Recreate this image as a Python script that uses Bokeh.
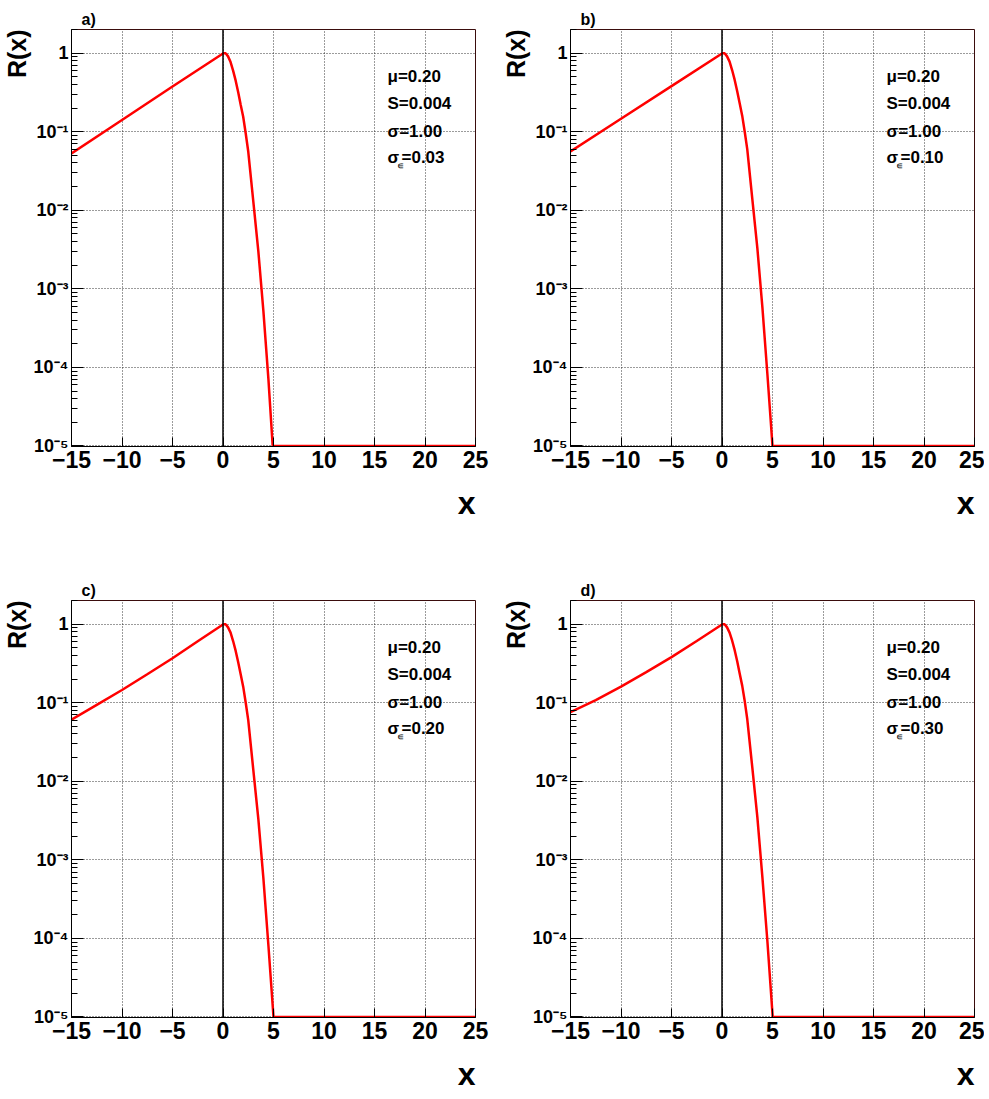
from bokeh.plotting import figure
from bokeh.models import Label, Span, FixedTicker, Title
from bokeh.layouts import column, row
from bokeh.embed import file_html
from bokeh.resources import INLINE

# ---------------- data ----------------
panel_tags = ["a)", "b)", "c)", "d)"]
param_mu = "μ=0.20"
param_s = "S=0.004"
param_sigma = "σ=1.00"
sigma_eps_values = ["=0.03", "=0.10", "=0.20", "=0.30"]
x_title = "x"
y_title = "R(x)"

x_a = [-15, -10, -5, 0, 0.1, 0.2, 0.3, 0.5, 0.75, 1.0, 1.25, 1.5, 1.75, 2.0, 2.25, 2.5, 3.0, 3.5, 4.0, 4.5, 4.92, 25]
r_a = [0.053, 0.141, 0.376, 0.99, 1.0, 1.0, 0.98, 0.91, 0.77, 0.60, 0.45, 0.32, 0.22, 0.155, 0.095, 0.056, 0.013, 0.003, 0.00052, 0.00007, 0.00001, 0.00001]

x_b = [-15, -10, -5, 0, 0.1, 0.2, 0.3, 0.5, 0.75, 1.0, 1.25, 1.5, 1.75, 2.0, 2.25, 2.5, 3.0, 3.5, 4.0, 4.5, 5.0, 25]
r_b = [0.056, 0.146, 0.38, 0.99, 1.0, 1.0, 0.98, 0.91, 0.78, 0.61, 0.46, 0.33, 0.23, 0.16, 0.10, 0.06, 0.014, 0.0033, 0.00058, 0.00008, 0.00001, 0.00001]

x_c = [-15, -12.5, -10, -7.5, -5, -2.5, 0, 0.1, 0.2, 0.3, 0.5, 0.75, 1.0, 1.25, 1.5, 1.75, 2.0, 2.25, 2.5, 3.0, 3.5, 4.0, 4.5, 5.0, 25]
r_c = [0.061, 0.094, 0.145, 0.23, 0.368, 0.605, 0.99, 1.0, 1.0, 0.98, 0.91, 0.78, 0.61, 0.46, 0.33, 0.23, 0.16, 0.10, 0.06, 0.014, 0.0033, 0.00058, 0.00008, 0.00001, 0.00001]

x_d = [-15, -12.5, -10, -7.5, -5, -2.5, 0, 0.1, 0.2, 0.3, 0.5, 0.75, 1.0, 1.25, 1.5, 1.75, 2.0, 2.25, 2.5, 3.0, 3.5, 4.0, 4.5, 5.02, 25]
r_d = [0.076, 0.108, 0.16, 0.245, 0.38, 0.61, 0.99, 1.0, 1.0, 0.98, 0.91, 0.78, 0.62, 0.47, 0.34, 0.235, 0.165, 0.105, 0.062, 0.015, 0.0035, 0.0006, 0.00009, 0.00001, 0.00001]

x_ticks = [-15, -10, -5, 0, 5, 10, 15, 20, 25]
y_ticks = [1e-5, 1e-4, 1e-3, 1e-2, 1e-1, 1.0]
y_tick_labels = ["10\u207b\u2075", "10\u207b\u2074", "10\u207b\u00b3", "10\u207b\u00b2", "10\u207b\u00b9", "1"]

X_RANGE = (-15, 25)
Y_RANGE = (0.985e-5, 2.0)

FONT = "Liberation Sans"

y_minor = []
for e in range(-5, 1):
    for k in range(2, 10):
        v = k * 10.0 ** e
        if v <= Y_RANGE[1]:
            y_minor.append(v)


def make_panel(xs, rs, tag, eps_text, left_border, right_border, top_border, bottom_border):
    p = figure(
        x_range=X_RANGE, y_range=Y_RANGE, y_axis_type="log",
        frame_width=404, frame_height=417,
        min_border_left=left_border, min_border_right=right_border,
        min_border_top=top_border, min_border_bottom=bottom_border,
        output_backend="svg", toolbar_location=None,
        background_fill_color="white", border_fill_color="white",
    )
    p.outline_line_color = "#3a0c0c"
    p.outline_line_width = 1

    # axes
    p.xaxis.ticker = FixedTicker(ticks=x_ticks, minor_ticks=[])
    p.yaxis.ticker = FixedTicker(ticks=y_ticks, minor_ticks=y_minor)
    p.yaxis.major_label_overrides = {t: l for t, l in zip(y_ticks, y_tick_labels)}
    for ax in (p.xaxis, p.yaxis):
        ax.axis_line_color = "black"
        ax.axis_line_width = 1
        ax.major_tick_out = 0
        ax.minor_tick_out = 0
        ax.major_tick_line_color = "black"
        ax.minor_tick_line_color = "black"
        ax.major_label_text_font = FONT
        ax.major_label_text_font_style = "bold"
        ax.major_label_text_color = "black"
    p.xaxis.major_tick_in = 9
    p.xaxis.major_label_text_font_size = "23px"
    p.xaxis.major_label_standoff = 4
    p.yaxis.major_tick_in = 12
    p.yaxis.minor_tick_in = 6
    p.yaxis.major_label_text_font_size = "18px"
    p.yaxis.major_label_standoff = 3

    # grid
    p.xgrid.ticker = FixedTicker(ticks=x_ticks, minor_ticks=[])
    p.ygrid.ticker = FixedTicker(ticks=y_ticks, minor_ticks=[])
    for g in (p.xgrid, p.ygrid):
        g.grid_line_color = "#222222"
        g.grid_line_dash = "1 2"
        g.grid_line_width = 1
        g.grid_line_alpha = 0.9

    # vertical line at x = 0
    p.add_layout(Span(location=0, dimension="height", line_color="black", line_width=1.5))

    # curve
    p.line(xs, rs, line_color="#ff0000", line_width=2.5)

    # parameter texts
    common = dict(x_units="screen", y_units="screen", text_font=FONT,
                  text_font_style="bold", text_color="black", text_font_size="17px")
    p.add_layout(Label(x=316, y=361, text=param_mu, **common))
    p.add_layout(Label(x=316, y=334, text=param_s, **common))
    p.add_layout(Label(x=316, y=306, text=param_sigma, **common))
    p.add_layout(Label(x=316, y=280, text="σ", **common))
    p.add_layout(Label(x=325, y=276, text="\u220a", text_font_size="10px",
                       x_units="screen", y_units="screen", text_font=FONT, text_color="black"))
    p.add_layout(Label(x=330, y=280, text=eps_text, **common))

    # titles outside the frame
    tcommon = dict(text_font=FONT, text_font_style="bold", text_color="black")
    p.add_layout(Title(text=tag, align="left", offset=10, standoff=4,
                       text_font_size="16px", **tcommon), "above")
    p.add_layout(Title(text=x_title, align="right", standoff=25,
                       text_font_size="32px", **tcommon), "below")
    p.add_layout(Title(text=y_title, align="right", standoff=0,
                       text_font_size="25px", **tcommon), "left")
    return p


pa = make_panel(x_a, r_a, panel_tags[0], sigma_eps_values[0], 70, 24, 29, 131)
pb = make_panel(x_b, r_b, panel_tags[1], sigma_eps_values[1], 70, 10, 29, 131)
pc = make_panel(x_c, r_c, panel_tags[2], sigma_eps_values[2], 70, 24, 21, 80)
pd = make_panel(x_d, r_d, panel_tags[3], sigma_eps_values[3], 70, 10, 21, 80)

layout = column(row(pa, pb, spacing=0), row(pc, pd, spacing=0), spacing=0)

with open("out.html", "w") as f:
    f.write(file_html(layout, INLINE))
